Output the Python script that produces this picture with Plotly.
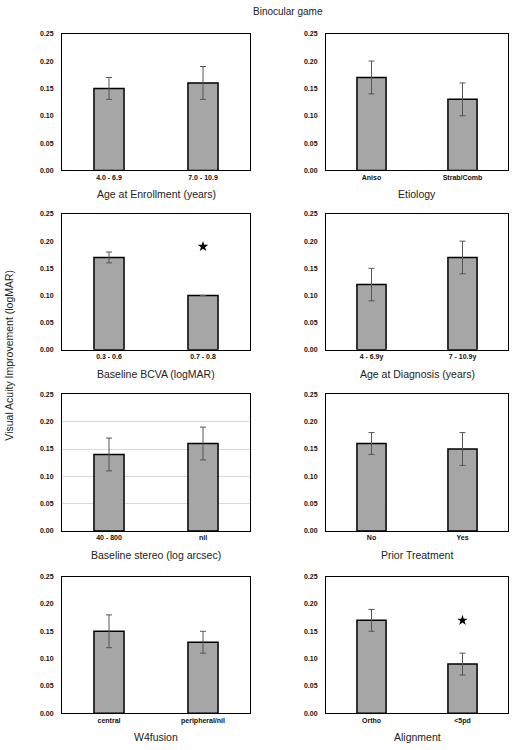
import plotly.graph_objects as go

# ---- data ----
titles = ["Age at Enrollment (years)", "Etiology",
          "Baseline BCVA (logMAR)", "Age at Diagnosis (years)",
          "Baseline stereo (log arcsec)", "Prior Treatment",
          "W4fusion", "Alignment"]
cats = [["4.0 - 6.9", "7.0 - 10.9"], ["Aniso", "Strab/Comb"],
        ["0.3 - 0.6", "0.7 - 0.8"], ["4 - 6.9y", "7 - 10.9y"],
        ["40 - 800", "nil"], ["No", "Yes"],
        ["central", "peripheral/nil"], ["Ortho", "<5pd"]]
means = [[0.15, 0.16], [0.17, 0.13],
         [0.17, 0.10], [0.12, 0.17],
         [0.14, 0.16], [0.16, 0.15],
         [0.15, 0.13], [0.17, 0.09]]
errs = [[0.02, 0.03], [0.03, 0.03],
        [0.01, 0.0], [0.03, 0.03],
        [0.03, 0.03], [0.02, 0.03],
        [0.03, 0.02], [0.02, 0.02]]
# significance markers: (panel index, category index, y position)
star_panel = [2, 7]
star_cat = [1, 1]
star_y = [0.19, 0.17]
grid_panels = [4]
y_ticks = [0.0, 0.05, 0.10, 0.15, 0.20, 0.25]

W, H = 516, 750
col_px = [(62, 250), (326, 508)]
row_px = [(30, 168), (212, 349), (394, 532), (578, 716)]

fig = go.Figure()
font = "Liberation Sans, Arial, sans-serif"
tickfont = dict(size=7, color="#111", family=font, weight="bold")

for i in range(8):
    r, c = divmod(i, 2)
    n = i + 1
    xa = "x" if n == 1 else f"x{n}"
    ya = "y" if n == 1 else f"y{n}"
    fig.add_trace(go.Bar(
        x=cats[i], y=means[i], xaxis=xa, yaxis=ya,
        marker=dict(color="#a6a6a6", line=dict(color="#000000", width=1.5)),
        error_y=dict(type="data", array=errs[i], visible=True,
                     color="#555555", thickness=1, width=3),
        width=0.32, showlegend=False, hoverinfo="skip"))
    x0, x1 = col_px[c]
    y0, y1 = row_px[r]
    xkey = "xaxis" if n == 1 else f"xaxis{n}"
    ykey = "yaxis" if n == 1 else f"yaxis{n}"
    fig.update_layout({
        xkey: dict(domain=[x0 / W, x1 / W], anchor=ya,
                   showline=True, linecolor="#000", linewidth=1, mirror=True,
                   ticks="", tickfont=tickfont,
                   showgrid=False, fixedrange=True),
        ykey: dict(domain=[1 - y1 / H, 1 - y0 / H], anchor=xa,
                   range=[0, 0.25], tickvals=y_ticks, tickformat=".2f",
                   showline=True, linecolor="#000", linewidth=1, mirror=True,
                   ticks="", ticklabelstandoff=6, tickfont=tickfont,
                   showgrid=(i in grid_panels), gridcolor="#d9d9d9", gridwidth=1,
                   zeroline=False, fixedrange=True),
    })
    fig.add_annotation(text=titles[i], xref="paper", yref="paper",
                       x=((x0 + x1) / 2) / W, y=1 - (y1 + 24) / H,
                       showarrow=False, xanchor="center", yanchor="middle",
                       font=dict(size=10.5, color="#222", family=font))

for p, ci, sy in zip(star_panel, star_cat, star_y):
    n = p + 1
    fig.add_trace(go.Scatter(
        x=[cats[p][ci]], y=[sy], xaxis=f"x{n}", yaxis=f"y{n}",
        mode="markers", marker=dict(symbol="star", size=8, color="#000"),
        showlegend=False, hoverinfo="skip"))

fig.add_annotation(text="Binocular game", xref="paper", yref="paper",
                   x=288 / W, y=1 - 8 / H, showarrow=False,
                   xanchor="center", yanchor="middle",
                   font=dict(size=10, color="#222", family=font))
fig.add_annotation(text="Visual Acuity Improvement (logMAR)", xref="paper",
                   yref="paper", x=9 / W, y=1 - 355 / H, showarrow=False,
                   textangle=-90, xanchor="center", yanchor="middle",
                   font=dict(size=10.5, color="#222", family=font))

fig.update_layout(width=W, height=H, margin=dict(l=0, r=0, t=0, b=0),
                  paper_bgcolor="white", plot_bgcolor="white",
                  bargap=0.68)

fig.write_html("out.html", config={"displayModeBar": False},
               post_script="document.body.style.margin='0';document.body.style.overflow='hidden';")
